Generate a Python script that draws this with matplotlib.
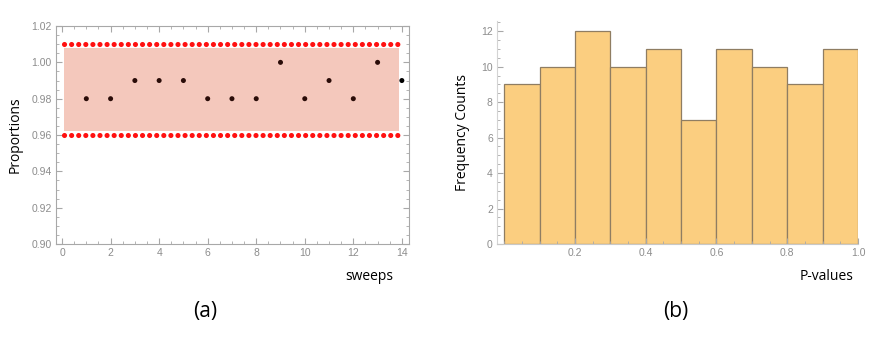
import numpy as np
import matplotlib
matplotlib.use('Agg')
import matplotlib.pyplot as plt
from matplotlib.ticker import MultipleLocator, FixedLocator

plt.rcParams['font.family'] = ['Open Sans', 'DejaVu Sans']

# panel (a) data
sweeps = [1, 2, 3, 4, 5, 6, 7, 8, 9, 10, 11, 12, 13, 14]
proportions = [0.98, 0.98, 0.99, 0.99, 0.99, 0.98, 0.98, 0.98, 1.00, 0.98, 0.99, 0.98, 1.00, 0.99]
lower_bound = 0.96
upper_bound = 1.01
band_x = [0.07, 13.88]

# panel (b) data
bin_edges = [0.0, 0.1, 0.2, 0.3, 0.4, 0.5, 0.6, 0.7, 0.8, 0.9, 1.0]
counts = [9, 10, 12, 10, 11, 7, 11, 10, 9, 11]

tick_gray = '#8c8c8c'
frame_gray = '#a8a8a8'
tick_font = ['Liberation Sans', 'DejaVu Sans']

fig = plt.figure(figsize=(8.72, 3.39), dpi=100)

# ---------- (a) ----------
ax1 = fig.add_axes([0.0642, 0.2802, 0.405, 0.643])
ax1.fill_between(band_x, [lower_bound + 0.002] * 2, [upper_bound - 0.002] * 2,
                 color='#f4c8bc', lw=0, zorder=1)
cols = ['#2a0c08' if band_x[0] <= s <= band_x[1] else 'black' for s in sweeps]
ax1.scatter(sweeps, proportions, s=13, c=cols, zorder=3, lw=0)
for b in (lower_bound, upper_bound):
    ax1.plot(band_x, [b, b], color='#ff1010', lw=3.7,
             linestyle=(0, (0.01, 1.37)), dash_capstyle='round', zorder=2)

ax1.set_xlim(-0.25, 14.3)
ax1.set_ylim(0.90, 1.02)
ax1.xaxis.set_major_locator(MultipleLocator(2))
ax1.xaxis.set_minor_locator(MultipleLocator(0.5))
ax1.yaxis.set_major_locator(FixedLocator([0.90, 0.92, 0.94, 0.96, 0.98, 1.00, 1.02]))
ax1.yaxis.set_minor_locator(MultipleLocator(0.005))
ax1.set_yticklabels(['0.90', '0.92', '0.94', '0.96', '0.98', '1.00', '1.02'])
ax1.tick_params(which='both', direction='in', top=True, right=True,
                color=frame_gray, labelcolor=tick_gray, labelsize=7.5, pad=3)
ax1.tick_params(which='major', length=4)
ax1.tick_params(which='minor', length=2)
for lab in ax1.get_xticklabels() + ax1.get_yticklabels():
    lab.set_family(tick_font)
for sp in ax1.spines.values():
    sp.set_color(frame_gray)
    sp.set_linewidth(0.8)
ax1.set_ylabel('Proportions', fontsize=10, labelpad=6)
fig.text(0.424, 0.183, 'sweeps', fontsize=10, ha='center', va='center')
fig.text(0.235, 0.08, '(a)', fontsize=15, ha='center', va='center')

# ---------- (b) ----------
ax2 = fig.add_axes([0.570, 0.2802, 0.414, 0.659])
ax2.hist(bin_edges[:-1], bins=bin_edges, weights=counts,
         color='#fbce80', edgecolor='#8f7d62', lw=0.9)
ax2.set_xlim(-0.02, 1.0)
ax2.set_ylim(0, 12.6)
ax2.xaxis.set_major_locator(FixedLocator([0.2, 0.4, 0.6, 0.8, 1.0]))
ax2.xaxis.set_minor_locator(MultipleLocator(0.05))
ax2.yaxis.set_major_locator(MultipleLocator(2))
ax2.yaxis.set_minor_locator(MultipleLocator(0.5))
ax2.tick_params(which='both', direction='in', color=frame_gray,
                labelcolor=tick_gray, labelsize=7.5, pad=3)
ax2.tick_params(which='major', length=4)
ax2.tick_params(which='minor', length=2)
for lab in ax2.get_xticklabels() + ax2.get_yticklabels():
    lab.set_family(tick_font)
ax2.spines['top'].set_visible(False)
ax2.spines['right'].set_visible(False)
ax2.spines['left'].set_color('#d4d4d4')
ax2.spines['bottom'].set_color('#c8c8c8')
ax2.set_ylabel('Frequency Counts', fontsize=10, labelpad=8)
fig.text(0.948, 0.183, 'P-values', fontsize=10, ha='center', va='center')
fig.text(0.775, 0.08, '(b)', fontsize=15, ha='center', va='center')

fig.savefig('out.png', dpi=100)
